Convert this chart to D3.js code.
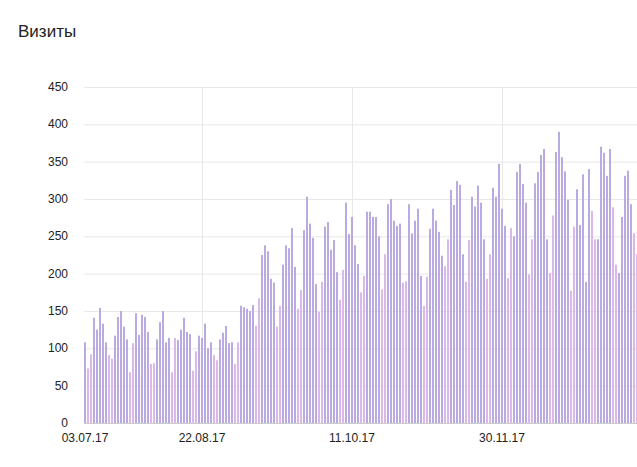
<!DOCTYPE html>
<html><head><meta charset="utf-8">
<script src="https://d3js.org/d3.v7.min.js"></script>
<style>body{margin:0;background:#fff;overflow:hidden}svg{display:block}</style>
</head><body>
<script>
const startDate = "2017-07-14";
const visits = [108,73,92,141,125,154,133,108,91,86,117,142,150,129,112,68,107,147,118,145,142,122,79,80,112,135,150,108,114,68,114,111,125,141,122,119,70,96,117,114,
133,100,108,91,84,112,121,130,107,108,79,108,157,155,153,150,158,130,167,225,238,230,193,188,129,157,212,238,234,261,209,153,178,258,303,267,248,186,149,189,263,269,232,245,202,165,
205,295,253,276,238,213,175,197,283,283,276,276,250,179,226,293,300,271,264,267,188,190,293,254,271,287,197,157,196,260,287,271,256,224,210,246,312,292,324,319,226,189,245,303,290,318,295,246,193,226,
315,303,347,287,264,194,261,250,336,347,320,295,199,246,321,336,359,367,246,201,278,363,390,356,337,299,177,263,313,265,333,189,340,284,246,246,370,362,331,367,289,212,201,276,331,338,293,254,226];
const tickDates = ["2017-07-03","2017-08-22","2017-10-11","2017-11-30"];
const yTicks = [0,50,100,150,200,250,300,350,400,450];
const title = "Визиты";

const W=637,H=467, pLeft=84, pTop=87, pBottom=423;
const parse=d3.utcParse("%Y-%m-%d");
const t0=parse(startDate);
const dates=visits.map((v,i)=>d3.utcDay.offset(t0,i));
const x=d3.scaleUtc().domain([t0,d3.utcDay.offset(t0,visits.length)]).range([pLeft,pLeft+visits.length*3]);
const y=d3.scaleLinear().domain([0,450]).range([pBottom,pTop]);
const svg=d3.select("body").append("svg").attr("width",W).attr("height",H).style("font-family","Liberation Sans, Arial, sans-serif");
svg.append("text").attr("x",18).attr("y",37).attr("font-size",17).attr("fill","#222").text(title);
const plot=svg.append("g");
svg.append("defs").append("clipPath").attr("id","c").append("rect").attr("x",pLeft).attr("y",0).attr("width",W-pLeft).attr("height",H);
plot.selectAll(".gy").data(yTicks).join("line").attr("x1",pLeft).attr("x2",W).attr("y1",d=>y(d)+0.5).attr("y2",d=>y(d)+0.5).attr("stroke",d=>d===0?"#ccc":"#e8e8e8");
const td=tickDates.map(parse);
plot.selectAll(".gx").data(td.filter(d=>x(d)>pLeft)).join("line").attr("x1",d=>Math.round(x(d))+1.5).attr("x2",d=>Math.round(x(d))+1.5).attr("y1",pTop).attr("y2",pBottom).attr("stroke","#e8e8e8");
svg.append("g").attr("clip-path","url(#c)").selectAll("rect").data(visits).join("rect")
 .attr("x",(d,i)=>x(dates[i])).attr("width",2).attr("y",d=>y(d)).attr("height",d=>pBottom-y(d))
 .attr("fill",(d,i)=>{const w=dates[i].getUTCDay();return (w===0||w===6)?"#dcb8e8":"#b9aae2";});
svg.selectAll(".yl").data(yTicks).join("text").attr("x",68).attr("y",d=>y(d)+4).attr("text-anchor","end").attr("font-size",12).attr("fill","#222").text(d=>d);
const fmt=d3.utcFormat("%d.%m.%y");
svg.selectAll(".xl").data(td).join("text").attr("x",d=>Math.max(85,x(d)+1)).attr("y",442).attr("text-anchor","middle").attr("font-size",12).attr("fill","#222").text(fmt);
</script>
</body></html>
